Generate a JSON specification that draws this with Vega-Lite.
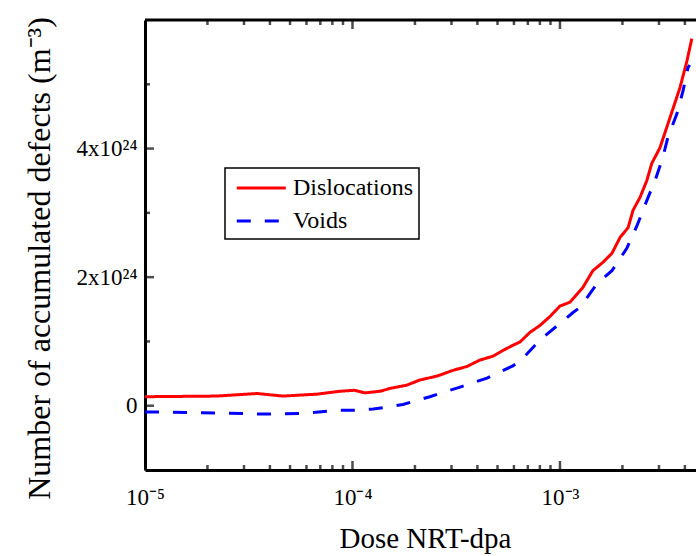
{
  "$schema": "https://vega.github.io/schema/vega-lite/v6.json",
  "width": 560,
  "height": 450,
  "autosize": {"type": "none"},
  "padding": {"left": 145, "top": 20, "right": -9, "bottom": 86},
  "background": "white",
  "config": {
    "font": "Liberation Serif",
    "view": {"stroke": null},
    "axisX": {
      "values": [1e-5, 1e-4, 1e-3],
      "labelExpr": "datum.value == 1e-5 ? '10⁻⁵' : datum.value == 1e-4 ? '10⁻⁴' : datum.value == 1e-3 ? '10⁻³' : ''",
      "ticks": false, "grid": false, "domain": true, "domainColor": "black", "domainWidth": 3,
      "labelFont": "Liberation Serif", "labelFontSize": 23, "labelColor": "black", "labelPadding": 16,
      "labelFlush": false, "labelOverlap": false,
      "titleFont": "Liberation Serif", "titleFontSize": 29, "titleFontWeight": "normal", "titleColor": "black", "titlePadding": 15
    },
    "axisY": {
      "values": [0, 2e24, 4e24, 6e24],
      "labelExpr": "(abs(datum.value/1e24 - round(datum.value/1e24)) > 0.01 || round(datum.value/1e24) % 2 != 0 || datum.value < -1e23) ? '' : (round(datum.value/1e24) == 0 ? '0' : round(datum.value/1e24) + 'x10²⁴')",
      "ticks": false, "grid": false, "domain": true, "domainColor": "black", "domainWidth": 3,
      "labelFont": "Liberation Serif", "labelFontSize": 23, "labelColor": "black", "labelPadding": 8,
      "labelFlush": false, "labelOverlap": false,
      "titleFont": "Liberation Serif", "titleFontSize": 32, "titleFontWeight": "normal", "titleColor": "black", "titlePadding": 20, "titleY": 238
    },
    "legend": {
      "orient": "none",
      "legendX": 80,
      "legendY": 148,
      "strokeColor": "black",
      "strokeWidth": 1.5,
      "fillColor": "white",
      "padding": 6,
      "symbolType": "M-0.67,0H3.33",
      "symbolSize": 600,
      "symbolStrokeWidth": 3,
      "labelFont": "Liberation Serif",
      "labelFontSize": 24,
      "labelColor": "black",
      "labelOffset": 34,
      "rowPadding": 7,
      "labelLimit": 0
    }
  },
  "datasets": {
    "curves": [
      {"series": "Dislocations", "dose": 1e-5, "defects": 1.4e23},
      {"series": "Dislocations", "dose": 2.22e-5, "defects": 1.5e23},
      {"series": "Dislocations", "dose": 3.47e-5, "defects": 1.9e23},
      {"series": "Dislocations", "dose": 4.62e-5, "defects": 1.5e23},
      {"series": "Dislocations", "dose": 6.75e-5, "defects": 1.8e23},
      {"series": "Dislocations", "dose": 8.71e-5, "defects": 2.25e23},
      {"series": "Dislocations", "dose": 1.02e-4, "defects": 2.4e23},
      {"series": "Dislocations", "dose": 1.15e-4, "defects": 2.0e23},
      {"series": "Dislocations", "dose": 1.36e-4, "defects": 2.25e23},
      {"series": "Dislocations", "dose": 1.52e-4, "defects": 2.7e23},
      {"series": "Dislocations", "dose": 1.83e-4, "defects": 3.2e23},
      {"series": "Dislocations", "dose": 2.11e-4, "defects": 4.0e23},
      {"series": "Dislocations", "dose": 2.55e-4, "defects": 4.6e23},
      {"series": "Dislocations", "dose": 3.05e-4, "defects": 5.5e23},
      {"series": "Dislocations", "dose": 3.56e-4, "defects": 6.1e23},
      {"series": "Dislocations", "dose": 4.11e-4, "defects": 7.1e23},
      {"series": "Dislocations", "dose": 4.75e-4, "defects": 7.7e23},
      {"series": "Dislocations", "dose": 5.31e-4, "defects": 8.6e23},
      {"series": "Dislocations", "dose": 5.93e-4, "defects": 9.4e23},
      {"series": "Dislocations", "dose": 6.41e-4, "defects": 9.9e23},
      {"series": "Dislocations", "dose": 7.16e-4, "defects": 1.14e24},
      {"series": "Dislocations", "dose": 8.02e-4, "defects": 1.25e24},
      {"series": "Dislocations", "dose": 8.96e-4, "defects": 1.39e24},
      {"series": "Dislocations", "dose": 1.0e-3, "defects": 1.55e24},
      {"series": "Dislocations", "dose": 1.117e-3, "defects": 1.61e24},
      {"series": "Dislocations", "dose": 1.29e-3, "defects": 1.84e24},
      {"series": "Dislocations", "dose": 1.44e-3, "defects": 2.1e24},
      {"series": "Dislocations", "dose": 1.61e-3, "defects": 2.23e24},
      {"series": "Dislocations", "dose": 1.78e-3, "defects": 2.37e24},
      {"series": "Dislocations", "dose": 1.95e-3, "defects": 2.62e24},
      {"series": "Dislocations", "dose": 2.13e-3, "defects": 2.77e24},
      {"series": "Dislocations", "dose": 2.25e-3, "defects": 3.04e24},
      {"series": "Dislocations", "dose": 2.43e-3, "defects": 3.24e24},
      {"series": "Dislocations", "dose": 2.62e-3, "defects": 3.5e24},
      {"series": "Dislocations", "dose": 2.77e-3, "defects": 3.77e24},
      {"series": "Dislocations", "dose": 3.03e-3, "defects": 4.01e24},
      {"series": "Dislocations", "dose": 3.39e-3, "defects": 4.48e24},
      {"series": "Dislocations", "dose": 3.79e-3, "defects": 4.95e24},
      {"series": "Dislocations", "dose": 4.09e-3, "defects": 5.36e24},
      {"series": "Dislocations", "dose": 4.32e-3, "defects": 5.71e24},
      {"series": "Voids", "dose": 1e-5, "defects": -9.6e22},
      {"series": "Voids", "dose": 1.84e-5, "defects": -1.1e23},
      {"series": "Voids", "dose": 3.87e-5, "defects": -1.3e23},
      {"series": "Voids", "dose": 5.58e-5, "defects": -1.2e23},
      {"series": "Voids", "dose": 8.71e-5, "defects": -7e22},
      {"series": "Voids", "dose": 1.02e-4, "defects": -7e22},
      {"series": "Voids", "dose": 1.26e-4, "defects": -5e22},
      {"series": "Voids", "dose": 1.4e-4, "defects": -3e22},
      {"series": "Voids", "dose": 1.75e-4, "defects": 2e22},
      {"series": "Voids", "dose": 2.36e-4, "defects": 1.4e23},
      {"series": "Voids", "dose": 3.3e-4, "defects": 2.9e23},
      {"series": "Voids", "dose": 4.45e-4, "defects": 4.3e23},
      {"series": "Voids", "dose": 5.93e-4, "defects": 6.2e23},
      {"series": "Voids", "dose": 6.41e-4, "defects": 6.9e23},
      {"series": "Voids", "dose": 7.74e-4, "defects": 9.7e23},
      {"series": "Voids", "dose": 8.28e-4, "defects": 1.06e24},
      {"series": "Voids", "dose": 1.0e-3, "defects": 1.28e24},
      {"series": "Voids", "dose": 1.156e-3, "defects": 1.45e24},
      {"series": "Voids", "dose": 1.25e-3, "defects": 1.53e24},
      {"series": "Voids", "dose": 1.51e-3, "defects": 1.9e24},
      {"series": "Voids", "dose": 1.78e-3, "defects": 2.1e24},
      {"series": "Voids", "dose": 2.1e-3, "defects": 2.45e24},
      {"series": "Voids", "dose": 2.35e-3, "defects": 2.8e24},
      {"series": "Voids", "dose": 2.62e-3, "defects": 3.19e24},
      {"series": "Voids", "dose": 2.87e-3, "defects": 3.5e24},
      {"series": "Voids", "dose": 3.13e-3, "defects": 3.86e24},
      {"series": "Voids", "dose": 3.31e-3, "defects": 4.17e24},
      {"series": "Voids", "dose": 3.66e-3, "defects": 4.54e24},
      {"series": "Voids", "dose": 3.92e-3, "defects": 4.9e24},
      {"series": "Voids", "dose": 4.14e-3, "defects": 5.26e24},
      {"series": "Voids", "dose": 4.22e-3, "defects": 5.3e24}
    ],
    "xticks": [
      {"dose": 1e-5, "kind": "major"}, {"dose": 2e-5, "kind": "minor"}, {"dose": 3e-5, "kind": "minor"}, {"dose": 4e-5, "kind": "minor"},
      {"dose": 5e-5, "kind": "minor"}, {"dose": 6e-5, "kind": "minor"}, {"dose": 7e-5, "kind": "minor"}, {"dose": 8e-5, "kind": "minor"},
      {"dose": 9e-5, "kind": "minor"}, {"dose": 1e-4, "kind": "major"}, {"dose": 2e-4, "kind": "minor"}, {"dose": 3e-4, "kind": "minor"},
      {"dose": 4e-4, "kind": "minor"}, {"dose": 5e-4, "kind": "minor"}, {"dose": 6e-4, "kind": "minor"}, {"dose": 7e-4, "kind": "minor"},
      {"dose": 8e-4, "kind": "minor"}, {"dose": 9e-4, "kind": "minor"}, {"dose": 1e-3, "kind": "major"}, {"dose": 2e-3, "kind": "minor"},
      {"dose": 3e-3, "kind": "minor"}, {"dose": 4e-3, "kind": "minor"}
    ],
    "yticks": [
      {"defects": 0, "kind": "major"}, {"defects": 1e24, "kind": "minor"}, {"defects": 2e24, "kind": "major"},
      {"defects": 3e24, "kind": "minor"}, {"defects": 4e24, "kind": "major"}, {"defects": 5e24, "kind": "minor"}
    ]
  },
  "layer": [
    {
      "data": {"name": "curves"},
      "mark": {"type": "line", "strokeWidth": 3},
      "encoding": {
        "x": {"field": "dose", "type": "quantitative", "scale": {"type": "log", "domain": [1e-5, 5e-3], "nice": false}, "title": "Dose NRT-dpa"},
        "y": {"field": "defects", "type": "quantitative", "scale": {"domain": [-1e24, 6e24], "nice": false, "zero": false}, "title": "Number of accumulated defects (m⁻³)"},
        "color": {
          "field": "series",
          "type": "nominal",
          "scale": {"domain": ["Dislocations", "Voids"], "range": ["#ff0000", "#0000ff"]},
          "legend": {"title": null}
        },
        "strokeDash": {
          "field": "series",
          "type": "nominal",
          "scale": {"domain": ["Dislocations", "Voids"], "range": [[1, 0], [14, 14]]},
          "legend": {"title": null}
        }
      }
    },
    {
      "data": {"name": "xticks"},
      "mark": {"type": "tick", "orient": "vertical", "color": "black", "thickness": 2.5, "clip": true},
      "encoding": {
        "x": {"field": "dose", "type": "quantitative", "title": "Dose NRT-dpa"},
        "y": {"datum": -1e24, "type": "quantitative", "title": "Number of accumulated defects (m⁻³)"},
        "size": {"field": "kind", "type": "nominal", "scale": {"domain": ["major", "minor"], "range": [18, 10]}, "legend": null}
      }
    },
    {
      "data": {"name": "xticks"},
      "mark": {"type": "tick", "orient": "vertical", "color": "black", "thickness": 2.5, "clip": true},
      "encoding": {
        "x": {"field": "dose", "type": "quantitative", "title": "Dose NRT-dpa"},
        "y": {"datum": 6e24, "type": "quantitative", "title": "Number of accumulated defects (m⁻³)"},
        "size": {"field": "kind", "type": "nominal", "scale": {"domain": ["major", "minor"], "range": [18, 10]}, "legend": null}
      }
    },
    {
      "data": {"name": "yticks"},
      "mark": {"type": "tick", "orient": "horizontal", "color": "black", "thickness": 2.5, "clip": true},
      "encoding": {
        "y": {"field": "defects", "type": "quantitative", "title": "Number of accumulated defects (m⁻³)"},
        "x": {"datum": 1e-5, "type": "quantitative", "title": "Dose NRT-dpa"},
        "size": {"field": "kind", "type": "nominal", "scale": {"domain": ["major", "minor"], "range": [18, 10]}, "legend": null}
      }
    },
    {
      "data": {"values": [{"edge": "top"}]},
      "mark": {"type": "rule", "color": "black", "strokeWidth": 3},
      "encoding": {
        "x": {"datum": 1e-5, "type": "quantitative", "title": "Dose NRT-dpa"},
        "x2": {"datum": 5e-3},
        "y": {"datum": 6e24, "type": "quantitative", "title": "Number of accumulated defects (m⁻³)"}
      }
    }
  ]
}
